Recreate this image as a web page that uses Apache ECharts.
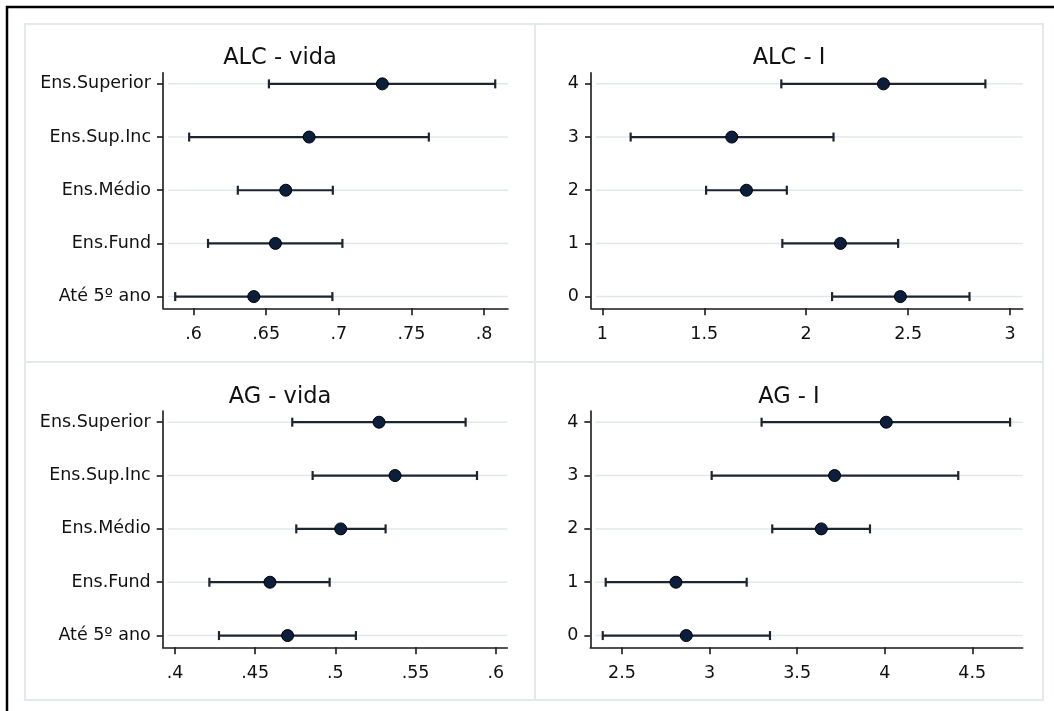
<!DOCTYPE html>
<html>
<head>
<meta charset="utf-8">
<script src="https://cdn.jsdelivr.net/npm/echarts@6/dist/echarts.min.js"></script>
<style>html,body{margin:0;padding:0;background:#fff;}#c{width:1054px;height:711px;}</style>
</head>
<body>
<div id="c"></div>
<script>
// Categories (y index 0..4)
const categories = ['Até 5º ano', 'Ens.Fund', 'Ens.Médio', 'Ens.Sup.Inc', 'Ens.Superior'];
const numLabels = ['0', '1', '2', '3', '4'];

// Panel titles
const titles = ['ALC - vida', 'ALC - I', 'AG - vida', 'AG - I'];

// ALC - vida
const alcVidaMean = [0.6415, 0.6564, 0.6635, 0.6796, 0.7300];
const alcVidaLo   = [0.5874, 0.6100, 0.6305, 0.5970, 0.6519];
const alcVidaHi   = [0.6956, 0.7025, 0.6959, 0.7620, 0.8077];
// ALC - I
const alcIMean = [2.462, 2.168, 1.707, 1.635, 2.379];
const alcILo   = [2.127, 1.883, 1.509, 1.139, 1.878];
const alcIHi   = [2.801, 2.451, 1.905, 2.134, 2.879];
// AG - vida
const agVidaMean = [0.4702, 0.4592, 0.5033, 0.5372, 0.5272];
const agVidaLo   = [0.4274, 0.4214, 0.4756, 0.4858, 0.4731];
const agVidaHi   = [0.5128, 0.4964, 0.5313, 0.5883, 0.5812];
// AG - I
const agIMean = [2.867, 2.808, 3.638, 3.714, 4.009];
const agILo   = [2.390, 2.407, 3.358, 3.012, 3.297];
const agIHi   = [3.345, 3.212, 3.916, 4.420, 4.716];

// X tick labels
const ticksAlcVida = [0.6, 0.65, 0.7, 0.75, 0.8];
const ticksAlcI    = [1, 1.5, 2, 2.5, 3];
const ticksAgVida  = [0.4, 0.45, 0.5, 0.55, 0.6];
const ticksAgI     = [2.5, 3, 3.5, 4, 4.5];
const yTicks = [0, 1, 2, 3, 4];

const panels = [
  {mean: alcVidaMean, lo: alcVidaLo, hi: alcVidaHi, ticks: ticksAlcVida, xmin: 0.579, xmax: 0.8165, ylab: categories,
   grid: {left: 163, top: 72.7, width: 345, height: 235.6}, title: [280, 58]},
  {mean: alcIMean, lo: alcILo, hi: alcIHi, ticks: ticksAlcI, xmin: 0.9445, xmax: 3.062, ylab: numLabels,
   grid: {left: 591, top: 72.7, width: 431.7, height: 235.6}, title: [789, 58]},
  {mean: agVidaMean, lo: agVidaLo, hi: agVidaHi, ticks: ticksAgVida, xmin: 0.3923, xmax: 0.6072, ylab: categories,
   grid: {left: 162.7, top: 411, width: 344.6, height: 236.3}, title: [280, 397]},
  {mean: agIMean, lo: agILo, hi: agIHi, ticks: ticksAgI, xmin: 2.319, xmax: 4.788, ylab: numLabels,
   grid: {left: 590.3, top: 411, width: 432.4, height: 236.3}, title: [789, 397]}
];

const FONT = '"DejaVu Sans", "Liberation Sans", Arial, sans-serif';
const axisColor = '#1a1a1a';

const grids = [], xAxes = [], yAxes = [], series = [];
panels.forEach((p, i) => {
  grids.push(Object.assign({containLabel: false}, p.grid));
  xAxes.push({
    type: 'value', gridIndex: i, min: p.xmin, max: p.xmax,
    axisLine: {show: true, onZero: false, lineStyle: {color: axisColor, width: 1.6}},
    axisTick: {show: true, customValues: p.ticks, length: 7, lineStyle: {color: axisColor, width: 1.6}},
    axisLabel: {show: true, customValues: p.ticks, margin: 17, color: '#111', fontFamily: FONT, fontSize: 17.5,
      formatter: v => String(v).replace(/^0\./, '.')},
    splitLine: {show: false}
  });
  yAxes.push({
    type: 'value', gridIndex: i, min: -0.22, max: 4.21,
    axisLine: {show: true, onZero: false, lineStyle: {color: axisColor, width: 1.6}},
    axisTick: {show: true, customValues: yTicks, length: 6, lineStyle: {color: axisColor, width: 1.6}},
    axisLabel: {show: true, customValues: yTicks, margin: 12, color: '#111', fontFamily: FONT, fontSize: 17.5,
      formatter: v => p.ylab[Math.round(v)]},
    splitLine: {show: false}
  });
  // gridlines
  series.push({
    type: 'custom', xAxisIndex: i, yAxisIndex: i, silent: true, z: 1,
    data: yTicks.map(k => [p.ticks[0], k]),
    encode: {x: 0, y: 1},
    renderItem: (params, api) => {
      const cs = params.coordSys;
      const y = api.coord([api.value(0), api.value(1)])[1];
      return {type: 'line', shape: {x1: cs.x + 5, y1: y, x2: cs.x + cs.width, y2: y},
        style: {stroke: '#e2e8ea', lineWidth: 1.5}};
    }
  });
  // error bars
  series.push({
    type: 'custom', xAxisIndex: i, yAxisIndex: i, silent: true, z: 3,
    data: p.lo.map((l, k) => [l, p.hi[k], k]),
    encode: {x: [0, 1], y: 2},
    renderItem: (params, api) => {
      const a = api.coord([api.value(0), api.value(2)]);
      const b = api.coord([api.value(1), api.value(2)]);
      const st = {stroke: '#1c2530', lineWidth: 2.2};
      return {type: 'group', children: [
        {type: 'line', shape: {x1: a[0], y1: a[1], x2: b[0], y2: b[1]}, style: st},
        {type: 'line', shape: {x1: a[0], y1: a[1] - 4.5, x2: a[0], y2: a[1] + 4.5}, style: st},
        {type: 'line', shape: {x1: b[0], y1: b[1] - 4.5, x2: b[0], y2: b[1] + 4.5}, style: st}
      ]};
    }
  });
  // points
  series.push({
    type: 'scatter', xAxisIndex: i, yAxisIndex: i, z: 5, symbol: 'circle', symbolSize: 12,
    itemStyle: {color: '#0b1f3d', borderColor: '#000', borderWidth: 1, opacity: 1},
    data: p.mean.map((m, k) => [m, k])
  });
});

const graphics = [
  {type: 'rect', shape: {x: 7, y: 7, width: 1100, height: 800}, style: {fill: 'none', stroke: '#000', lineWidth: 2.5}, z: 0},
  {type: 'rect', shape: {x: 25, y: 24, width: 510, height: 338}, style: {fill: 'none', stroke: '#e4eaec', lineWidth: 2}, z: 0},
  {type: 'rect', shape: {x: 535, y: 24, width: 508, height: 338}, style: {fill: 'none', stroke: '#e4eaec', lineWidth: 2}, z: 0},
  {type: 'rect', shape: {x: 25, y: 362, width: 510, height: 338}, style: {fill: 'none', stroke: '#e4eaec', lineWidth: 2}, z: 0},
  {type: 'rect', shape: {x: 535, y: 362, width: 508, height: 338}, style: {fill: 'none', stroke: '#e4eaec', lineWidth: 2}, z: 0}
];
panels.forEach((p, i) => {
  graphics.push({type: 'text', x: p.title[0], y: p.title[1], z: 10,
    style: {text: titles[i], fill: '#111', font: '22.5px ' + FONT, textAlign: 'center', textVerticalAlign: 'middle',
      align: 'center', verticalAlign: 'middle'}});
});

const chart = echarts.init(document.getElementById('c'), null, {renderer: 'canvas'});
chart.setOption({
  animation: false,
  backgroundColor: '#fff',
  grid: grids, xAxis: xAxes, yAxis: yAxes, series: series,
  graphic: graphics
});
</script>
</body>
</html>
